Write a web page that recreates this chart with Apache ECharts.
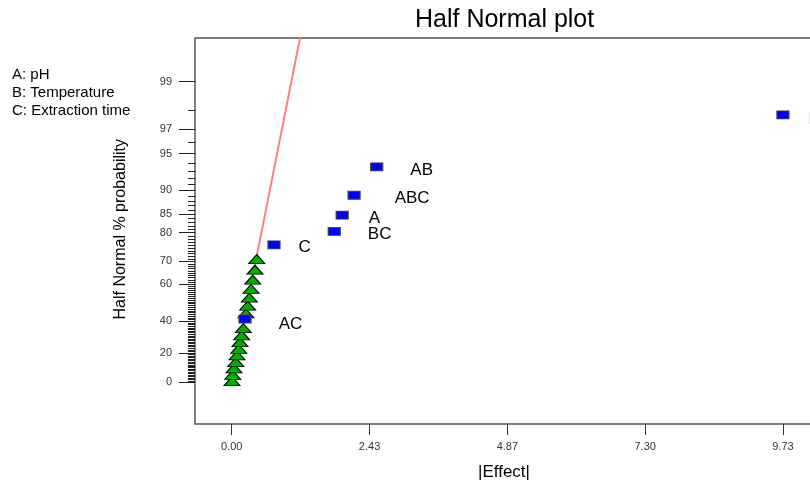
<!DOCTYPE html>
<html>
<head>
<meta charset="utf-8">
<script src="https://cdn.jsdelivr.net/npm/echarts@6/dist/echarts.min.js"></script>
<style>
  html, body { margin: 0; padding: 0; background: #fff; overflow: hidden; }
  #main { width: 880px; height: 484px; }
</style>
</head>
<body>
<div id="main"></div>
<script>
// significant effects (blue squares)
const effectNames = ['AC', 'C', 'BC', 'A', 'ABC', 'AB', 'B']
const effectValues = [0.235, 0.746, 1.81, 1.95, 2.16, 2.56, 9.73]
const effectProbs = [41.3, 76.1, 80.4, 84.8, 89.1, 93.5, 97.8]

// error estimates (green triangles)
const errorValues = [0.005, 0.018, 0.041, 0.071, 0.094, 0.124, 0.146, 0.176, 0.205, 0.252, 0.282, 0.311, 0.341, 0.371, 0.411, 0.441]
const errorProbs = [2.2, 6.5, 10.9, 15.2, 19.6, 23.9, 28.3, 32.6, 37.0, 45.7, 50.0, 54.3, 58.7, 63.0, 67.4, 71.7]

// fitted line through the origin
const fitEffect = [0, 1.205]
const fitProb = [0, 99.68]

const xTicks = [0, 2.433, 4.866, 7.298, 9.73]
const yTicks = [0, 20, 40, 60, 70, 80, 85, 90, 95, 97, 99]
const factorLegend = ['A: pH', 'B: Temperature', 'C: Extraction time']

// label nudges for each effect name
const labelNudge = {
  AC: [22, 5], C: [13, 2], BC: [22, 3], A: [15, 3], ABC: [29, 3], AB: [22, 3], B: [14, 4]
}

// inverse normal cdf (Acklam)
function probit(p) {
  const a = [-3.969683028665376e+01, 2.209460984245205e+02, -2.759285104469687e+02, 1.383577518672690e+02, -3.066479806614716e+01, 2.506628277459239e+00]
  const b = [-5.447609879822406e+01, 1.615858368580409e+02, -1.556989798598866e+02, 6.680131188771972e+01, -1.328068155288572e+01]
  const c = [-7.784894002430293e-03, -3.223964580411365e-01, -2.400758277161838e+00, -2.549732539343734e+00, 4.374664141464968e+00, 2.938163982698783e+00]
  const d = [7.784695709041462e-03, 3.224671290700398e-01, 2.445134137142996e+00, 3.754408661907416e+00]
  const pl = 0.02425
  if (p < pl) {
    const q = Math.sqrt(-2 * Math.log(p))
    return (((((c[0]*q+c[1])*q+c[2])*q+c[3])*q+c[4])*q+c[5]) / ((((d[0]*q+d[1])*q+d[2])*q+d[3])*q+1)
  }
  if (p > 1 - pl) {
    const q = Math.sqrt(-2 * Math.log(1 - p))
    return -(((((c[0]*q+c[1])*q+c[2])*q+c[3])*q+c[4])*q+c[5]) / ((((d[0]*q+d[1])*q+d[2])*q+d[3])*q+1)
  }
  const q = p - 0.5, r = q * q
  return (((((a[0]*r+a[1])*r+a[2])*r+a[3])*r+a[4])*r+a[5])*q / (((((b[0]*r+b[1])*r+b[2])*r+b[3])*r+b[4])*r+1)
}
// half normal % probability -> z
const hn = pct => probit(0.5 + pct / 200)

const majorZ = yTicks.map(hn)
let minorZ = []
for (let p = 1; p < 99; p++) {
  if (p > 94 && p !== 96 && p !== 98) continue
  if (yTicks.includes(p)) continue
  minorZ.push(hn(p))
}

const yMin = -0.356, yMax = 2.949

var chart = echarts.init(document.getElementById('main'))

let yBase = {
  type: 'value',
  min: yMin,
  max: yMax,
  position: 'left',
  splitLine: { show: false },
  axisLine: { show: false, onZero: false }
}

const font = '"Liberation Sans", Arial, sans-serif'

let option = {
  animation: false,
  backgroundColor: '#fff',
  textStyle: { fontFamily: 'Liberation Sans, Arial, sans-serif' },
  grid: {
    left: 195, top: 38, height: 386, width: 665,
    outerBoundsMode: 'none',
    show: true, borderColor: '#555', borderWidth: 1.5, backgroundColor: 'transparent'
  },
  graphic: [
    {
      type: 'text', left: 415, top: 8,
      style: { text: 'Half Normal plot', font: '25px ' + font, fill: '#000' }
    },
    {
      type: 'text', left: 478, top: 464,
      style: { text: '|Effect|', font: '17px ' + font, fill: '#000' }
    },
    {
      type: 'text', left: 113, top: 139, rotation: Math.PI / 2,
      style: { text: 'Half Normal % probability', font: '16px ' + font, fill: '#000' }
    },
    {
      type: 'text', left: 12, top: 66,
      style: { text: factorLegend.join('\n'), font: '15px ' + font, lineHeight: 18, fill: '#000' }
    }
  ],
  xAxis: {
    type: 'value',
    min: -0.648,
    max: 11.09,
    splitLine: { show: false },
    axisLine: { show: false, onZero: false },
    axisTick: { show: true, customValues: xTicks, length: 11, lineStyle: { color: '#333', width: 1 } },
    axisLabel: {
      customValues: xTicks, margin: 17, fontSize: 11, color: '#333',
      formatter: v => v.toFixed(2)
    }
  },
  yAxis: [
    {
      ...yBase,
      axisTick: { show: true, customValues: majorZ, length: 16, lineStyle: { color: '#222', width: 1 } },
      axisLabel: {
        customValues: majorZ, margin: 23, fontSize: 11, color: '#333',
        formatter: v => {
          let i = majorZ.findIndex(z => Math.abs(z - v) < 1e-6)
          return i >= 0 ? String(yTicks[i]) : ''
        }
      }
    },
    {
      ...yBase,
      axisTick: { show: true, customValues: minorZ, length: 7, lineStyle: { color: '#222', width: 1 } },
      axisLabel: { show: false }
    }
  ],
  series: [
    {
      type: 'line',
      data: fitEffect.map((e, i) => [e, hn(fitProb[i])]),
      symbol: 'none',
      lineStyle: { color: '#ff7f7f', width: 2 },
      z: 1
    },
    {
      type: 'scatter',
      data: errorValues.map((e, i) => [e, hn(errorProbs[i])]),
      symbol: 'triangle',
      symbolSize: [16, 9],
      symbolOffset: [0, 2],
      itemStyle: { color: '#00b000', borderColor: '#000', borderWidth: 1, opacity: 1 },
      z: 2
    },
    {
      type: 'scatter',
      data: effectValues.map((e, i) => ({
        value: [e, hn(effectProbs[i])],
        name: effectNames[i],
        label: { offset: labelNudge[effectNames[i]] }
      })),
      symbol: 'rect',
      symbolSize: [12, 8],
      itemStyle: { color: '#0000ff', borderColor: '#444', borderWidth: 1, opacity: 1 },
      label: {
        show: true, position: 'right', distance: 5,
        formatter: p => p.name, fontSize: 17, color: '#000'
      },
      z: 3
    }
  ]
}

chart.setOption(option)
</script>
</body>
</html>
